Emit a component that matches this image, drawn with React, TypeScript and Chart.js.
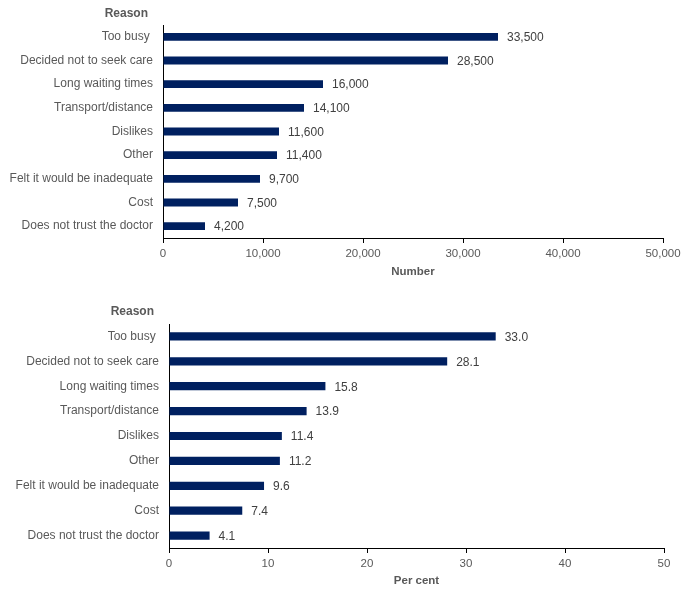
import React, { useEffect, useRef } from "react";
import { Chart, registerables } from "chart.js";

Chart.register(...registerables);

const categories = [
  "Too busy ",
  "Decided not to seek care",
  "Long waiting times",
  "Transport/distance",
  "Dislikes",
  "Other",
  "Felt it would be inadequate",
  "Cost",
  "Does not trust the doctor",
];

const numberValues = [33500, 28500, 16000, 14100, 11600, 11400, 9700, 7500, 4200];
const percentValues = [33.0, 28.1, 15.8, 13.9, 11.4, 11.2, 9.6, 7.4, 4.1];

const numberTicks = [0, 10000, 20000, 30000, 40000, 50000];
const percentTicks = [0, 10, 20, 30, 40, 50];

const FONT = "'Liberation Sans', Arial, Helvetica, sans-serif";
const NAVY = "#002060";
const GREY = "#595959";

type PanelSpec = {
  values: number[];
  ticks: number[];
  axisTitle: string;
  fmtValue: (v: number) => string;
  fmtTick: (v: number) => string;
  width: number;
  height: number;
  padTop: number;
  padRight: number;
  yWidth: number;
  xHeight: number;
  titleBottomPad: number;
  reasonOffset: number;
};

function makePanel(canvas: HTMLCanvasElement, spec: PanelSpec) {
  // value printed just past the end of each bar
  const valueLabels = {
    id: "valueLabels",
    afterDatasetsDraw(chart: any) {
      const ctx = chart.ctx;
      const meta = chart.getDatasetMeta(0);
      ctx.save();
      ctx.font = `12px ${FONT}`;
      ctx.fillStyle = "#404040";
      ctx.textAlign = "left";
      ctx.textBaseline = "middle";
      meta.data.forEach((bar: any, i: number) => {
        ctx.fillText(spec.fmtValue(spec.values[i]), bar.x + 9, bar.y + 1);
      });
      ctx.restore();
    },
  };

  // "Reason" heading sitting above the category labels
  const reasonHeading = {
    id: "reasonHeading",
    afterDraw(chart: any) {
      const ctx = chart.ctx;
      const area = chart.chartArea;
      ctx.save();
      ctx.font = `bold 12px ${FONT}`;
      ctx.fillStyle = GREY;
      ctx.textAlign = "right";
      ctx.textBaseline = "middle";
      ctx.fillText("Reason", area.left - 15, area.top - spec.reasonOffset);
      ctx.restore();
    },
  };

  return new Chart(canvas, {
    type: "bar",
    data: {
      labels: categories,
      datasets: [
        {
          data: spec.values,
          backgroundColor: NAVY,
          borderWidth: 0,
          barPercentage: 0.33,
          categoryPercentage: 1,
        },
      ],
    },
    options: {
      indexAxis: "y",
      animation: false,
      responsive: false,
      devicePixelRatio: 1,
      layout: {
        padding: { top: spec.padTop, right: spec.padRight, left: 0, bottom: 0 },
      },
      plugins: {
        legend: { display: false },
        tooltip: { enabled: false },
        title: { display: false },
      },
      scales: {
        x: {
          type: "linear",
          min: spec.ticks[0],
          max: spec.ticks[spec.ticks.length - 1],
          afterBuildTicks(scale: any) {
            scale.ticks = spec.ticks.map((v) => ({ value: v }));
          },
          afterFit(scale: any) {
            scale.height = spec.xHeight;
          },
          grid: {
            drawOnChartArea: false,
            drawTicks: true,
            tickLength: 5,
            color: "#000000",
          },
          border: { display: true, color: "#000000", width: 1 },
          ticks: {
            padding: 4,
            color: GREY,
            font: { family: FONT, size: 11.5 },
            maxRotation: 0,
            callback: (v: any) => spec.fmtTick(Number(v)),
          },
          title: {
            display: true,
            text: spec.axisTitle,
            color: GREY,
            font: { family: FONT, size: 11.5, weight: "bold" },
            padding: { top: 0, bottom: spec.titleBottomPad },
          },
        },
        y: {
          type: "category",
          afterFit(scale: any) {
            scale.width = spec.yWidth;
          },
          grid: { display: false, drawTicks: false },
          border: { display: true, color: "#000000", width: 1 },
          ticks: {
            padding: 10,
            color: GREY,
            font: { family: FONT, size: 12 },
            autoSkip: false,
          },
        },
      },
    },
    plugins: [valueLabels, reasonHeading],
  } as any);
}

const topSpec: PanelSpec = {
  values: numberValues,
  ticks: numberTicks,
  axisTitle: "Number",
  fmtValue: (v) => v.toLocaleString("en-US"),
  fmtTick: (v) => v.toLocaleString("en-US"),
  width: 693,
  height: 290,
  padTop: 25,
  padRight: 30,
  yWidth: 163,
  xHeight: 52,
  titleBottomPad: 11,
  reasonOffset: 11,
};

const bottomSpec: PanelSpec = {
  values: percentValues,
  ticks: percentTicks,
  axisTitle: "Per cent",
  fmtValue: (v) => v.toFixed(1),
  fmtTick: (v) => String(v),
  width: 693,
  height: 306,
  padTop: 34,
  padRight: 29,
  yWidth: 169,
  xHeight: 48,
  titleBottomPad: 8,
  reasonOffset: 12,
};

function Panel({ spec, top }: { spec: PanelSpec; top: number }) {
  const ref = useRef<HTMLCanvasElement | null>(null);
  useEffect(() => {
    if (!ref.current) return;
    const chart = makePanel(ref.current, spec);
    return () => chart.destroy();
  }, [spec]);
  return (
    <canvas
      ref={ref}
      width={spec.width}
      height={spec.height}
      style={{
        position: "absolute",
        left: 0,
        top,
        width: spec.width,
        height: spec.height,
        display: "block",
      }}
    />
  );
}

export default function App() {
  return (
    <div
      style={{
        position: "absolute",
        left: 0,
        top: 0,
        width: 693,
        height: 596,
        background: "#ffffff",
      }}
    >
      <Panel spec={topSpec} top={0} />
      <Panel spec={bottomSpec} top={290} />
    </div>
  );
}
